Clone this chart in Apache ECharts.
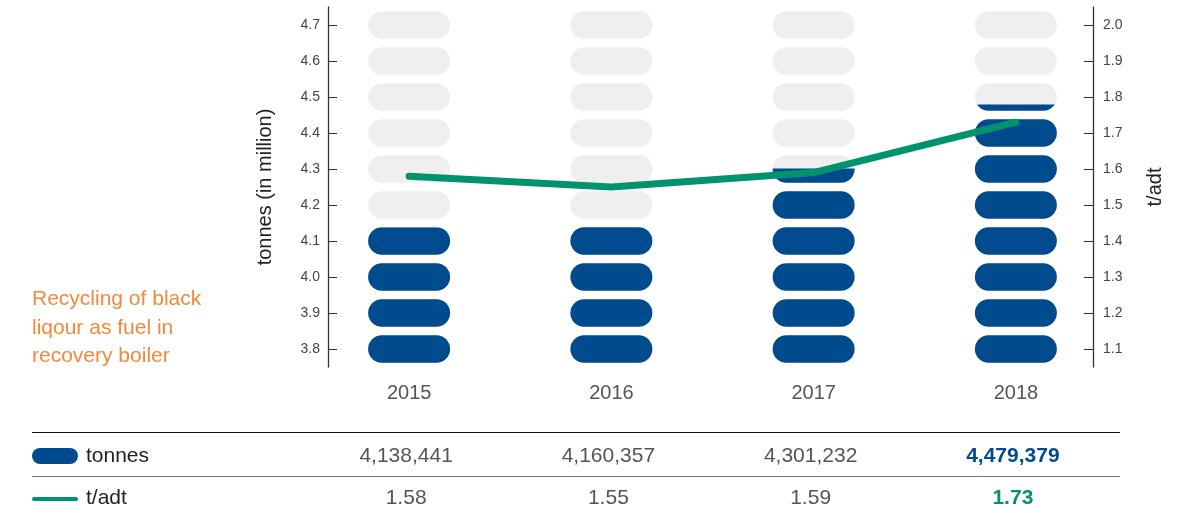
<!DOCTYPE html>
<html>
<head>
<meta charset="utf-8">
<script src="https://cdn.jsdelivr.net/npm/echarts@6/dist/echarts.min.js"></script>
<style>
  html, body { margin: 0; padding: 0; background: #fff; }
  #chart { width: 1202px; height: 513px; }
</style>
</head>
<body>
<div id="chart"></div>
<script>
// data
const years = ['2015', '2016', '2017', '2018'];
const tonnes = [4138441, 4160357, 4301232, 4479379];
const tPerAdt = [1.58, 1.55, 1.59, 1.73];
const leftTicks = [3.8, 3.9, 4.0, 4.1, 4.2, 4.3, 4.4, 4.5, 4.6, 4.7];
const rightTicks = [1.1, 1.2, 1.3, 1.4, 1.5, 1.6, 1.7, 1.8, 1.9, 2.0];
const leftRange = [3.75, 4.75];
const rightRange = [1.05, 2.05];

const BLUE = '#004b8d';
const GREEN = '#00936e';
const GREY = '#efefef';
const FONT = 'Liberation Sans';

// pill shape, stretched to symbolSize
const pill = 'path://M13.75,0H68.25A13.75,13.75,0,0,1,68.25,27.5H13.75A13.75,13.75,0,0,1,13.75,0Z';

// pictorialBar repeats from 0, so the bars sit on a hidden axis counted from the left axis min
const millions = tonnes.map(v => v / 1e6 - leftRange[0]);
const span = leftRange[1] - leftRange[0];

const chart = echarts.init(document.getElementById('chart'));

const option = {
  animation: false,
  textStyle: { fontFamily: FONT },
  grid: { left: 308, right: 85, top: 7, height: 360, outerBoundsMode: 'none' },
  xAxis: {
    type: 'category',
    data: years,
    axisLine: { show: false },
    axisTick: { show: false },
    axisLabel: { color: '#555', fontSize: 20, margin: 16 }
  },
  yAxis: [
    {
      type: 'value',
      min: leftRange[0],
      max: leftRange[1],
      offset: -20,
      name: 'tonnes (in million)',
      nameLocation: 'middle',
      nameRotate: 90,
      nameGap: 53,
      nameTextStyle: { color: '#222', fontSize: 20 },
      splitLine: { show: false },
      axisLine: { show: true, lineStyle: { color: '#333', width: 1.3 } },
      axisTick: { show: true, inside: true, length: 9, lineStyle: { color: '#333' }, customValues: leftTicks },
      axisLabel: { color: '#444', fontSize: 14, margin: 8, customValues: leftTicks, formatter: v => v.toFixed(1) }
    },
    {
      type: 'value',
      position: 'right',
      min: rightRange[0],
      max: rightRange[1],
      offset: -24,
      name: 't/adt',
      nameLocation: 'middle',
      nameRotate: 90,
      nameGap: 52,
      nameTextStyle: { color: '#222', fontSize: 20 },
      splitLine: { show: false },
      axisLine: { show: true, lineStyle: { color: '#333', width: 1.3 } },
      axisTick: { show: true, inside: true, length: 9, lineStyle: { color: '#333' }, customValues: rightTicks },
      axisLabel: { color: '#444', fontSize: 14, margin: 10, customValues: rightTicks, formatter: v => v.toFixed(1) }
    },
    { type: 'value', min: 0, max: span, show: false }
  ],
  series: [
    {
      name: 'slots',
      type: 'pictorialBar',
      yAxisIndex: 2,
      symbol: pill,
      symbolSize: [82, 27.5],
      symbolRepeat: 10,
      symbolMargin: '0!',
      symbolBoundingData: span,
      barGap: '-100%',
      itemStyle: { color: GREY },
      z: 1,
      data: years.map(() => span)
    },
    {
      name: 'tonnes',
      type: 'pictorialBar',
      yAxisIndex: 2,
      symbol: pill,
      symbolSize: [82, 27.5],
      symbolRepeat: 10,
      symbolMargin: '0!',
      symbolBoundingData: span,
      symbolClip: true,
      barGap: '-100%',
      itemStyle: { color: BLUE },
      z: 2,
      data: millions
    },
    {
      name: 't/adt',
      type: 'line',
      yAxisIndex: 1,
      symbol: 'none',
      lineStyle: { color: GREEN, width: 7, cap: 'round', join: 'round' },
      z: 5,
      data: tPerAdt
    }
  ]
};
chart.setOption(option);

// table under the chart, columns follow the category axis
const xs = years.map(y => chart.convertToPixel({ xAxisIndex: 0 }, y));
const last = years.length - 1;
const graphics = [
  {
    type: 'text', left: 32, top: 285,
    style: { text: 'Recycling of black\nliqour as fuel in\nrecovery boiler', fill: '#f5883a', fontSize: 21, lineHeight: 28.5, fontFamily: FONT }
  },
  { type: 'line', shape: { x1: 32, y1: 432.5, x2: 1120, y2: 432.5 }, style: { stroke: '#111', lineWidth: 1.2 } },
  { type: 'line', shape: { x1: 32, y1: 476.5, x2: 1120, y2: 476.5 }, style: { stroke: '#777', lineWidth: 1.2 } },
  { type: 'rect', shape: { x: 32, y: 448, width: 46, height: 16, r: 8 }, style: { fill: BLUE } },
  { type: 'rect', shape: { x: 32, y: 497, width: 46, height: 4, r: 2 }, style: { fill: GREEN } },
  { type: 'text', x: 86, y: 456, style: { text: 'tonnes', fill: '#222', fontSize: 21, verticalAlign: 'middle', fontFamily: FONT } },
  { type: 'text', x: 86, y: 498, style: { text: 't/adt', fill: '#222', fontSize: 21, verticalAlign: 'middle', fontFamily: FONT } }
];
years.forEach((y, i) => {
  const isLast = i === last;
  graphics.push({
    type: 'text', x: xs[i] - 3, y: 456,
    style: {
      text: tonnes[i].toLocaleString('en-US'),
      fill: isLast ? BLUE : '#555', fontSize: 21, fontWeight: isLast ? 'bold' : 'normal',
      align: 'center', verticalAlign: 'middle', fontFamily: FONT
    }
  });
  graphics.push({
    type: 'text', x: xs[i] - 3, y: 498,
    style: {
      text: tPerAdt[i].toFixed(2),
      fill: isLast ? GREEN : '#555', fontSize: 21, fontWeight: isLast ? 'bold' : 'normal',
      align: 'center', verticalAlign: 'middle', fontFamily: FONT
    }
  });
});
chart.setOption({ graphic: graphics });
</script>
</body>
</html>
